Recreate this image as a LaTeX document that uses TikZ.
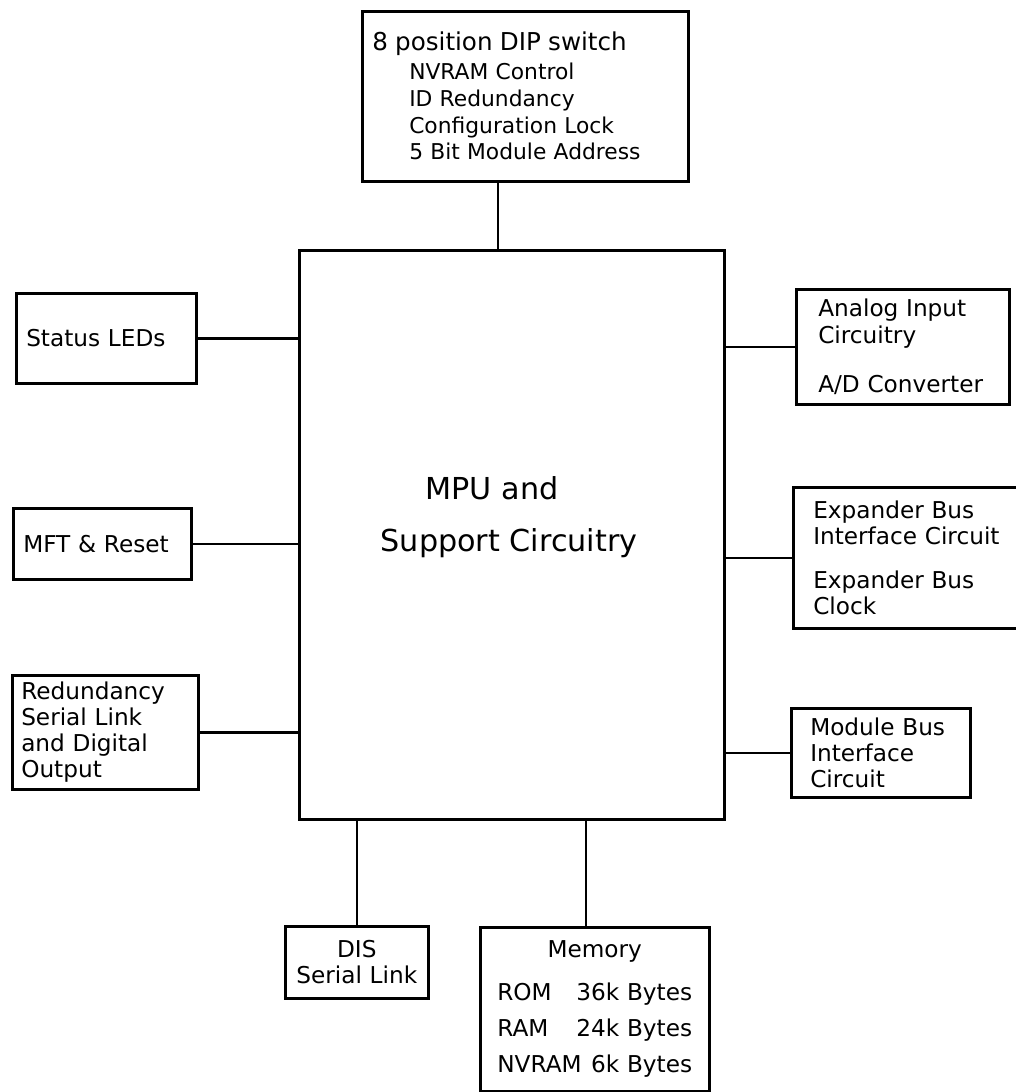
\documentclass[tikz,border=0pt]{standalone}
\usepackage{fontspec}
\setmainfont{DejaVu Sans}
\usepackage{tikz}

\begin{document}
\begin{tikzpicture}[
  x=0.25mm, y=-0.25mm,
  font=\fontsize{16.5}{18.5}\selectfont,
  block/.style={draw, line width=1.8pt, anchor=north west, align=left, inner ysep=0pt},
  link/.style={line width=1.8pt},
]
\useasboundingbox (0,0) rectangle (1016,1092);

% central processor
\node[block, minimum width=106.25mm, minimum height=142.25mm] (mpu) at (298,249) {};
\node[align=left, font=\fontsize{21.5}{37}\selectfont] (mputext) at (509,517) {\hspace*{11.25mm}MPU and\\Support Circuitry};

% top
\node[block, text width=76.5mm, inner xsep=2.5mm, minimum height=42.5mm, font=\fontsize{15.5}{19}\selectfont] (dip) at (361,10)
  {{\fontsize{17.5}{19}\selectfont 8 position DIP switch}\\[1.5pt]
   \hspace*{9.25mm}NVRAM Control\\
   \hspace*{9.25mm}ID Redundancy\\
   \hspace*{9.25mm}Configuration Lock\\
   \hspace*{9.25mm}5 Bit Module Address};

% left side
\node[block, text width=40mm, inner xsep=2.5mm, minimum height=22.5mm] (leds) at (15,292) {Status LEDs};
\node[block, text width=39.5mm, inner xsep=2.5mm, minimum height=17.75mm] (mft) at (12,507) {MFT \& Reset};
\node[block, text width=42mm, inner xsep=2.25mm, minimum height=28.5mm] (redund) at (11,674)
  {Redundancy\\Serial Link\\and Digital\\Output};

% right side
\node[block, text width=42.25mm, inner xsep=5.5mm, minimum height=28.75mm] (analog) at (795,288)
  {Analog Input\\Circuitry\\[5.75mm]A/D Converter};
\node[block, text width=49.5mm, inner xsep=5mm, minimum height=35.25mm] (expander) at (792,486)
  {Expander Bus\\Interface Circuit\\[4.5mm]Expander Bus\\Clock};
\node[block, text width=35.25mm, inner xsep=4.75mm, minimum height=22.25mm] (modbus) at (790,707)
  {Module Bus\\Interface\\Circuit};

% bottom
\node[block, align=center, text width=31mm, inner xsep=2.375mm, minimum height=18mm] (dis) at (284,925)
  {DIS\\Serial Link};
\node[block, align=center, text width=51mm, inner xsep=3.125mm, minimum height=41mm, font=\fontsize{16.5}{25.6}\selectfont] (memory) at (479,926)
  {Memory\\[1.75mm]
   \makebox[30.5mm]{ROM\hfill 36k} Bytes\\
   \makebox[30.5mm]{RAM\hfill 24k} Bytes\\
   \makebox[30.5mm]{NVRAM\hfill 6k} Bytes};

% connections
\coordinate (dipjoin) at (498,249);
\coordinate (memjoin) at (586,818);
\draw[link] (dip.south -| dipjoin) -- (dipjoin);
\draw[link] (leds.east) -- (leds.east -| mpu.west);
\draw[link] (mft.east) -- (mft.east -| mpu.west);
\draw[link] (redund.east) -- (redund.east -| mpu.west);
\draw[link] (analog.west) -- (analog.west -| mpu.east);
\draw[link] (expander.west) -- (expander.west -| mpu.east);
\draw[link] (modbus.west) -- (modbus.west -| mpu.east);
\draw[link] (dis.north) -- (dis.north |- mpu.south);
\draw[link] (memjoin) -- (memory.north -| memjoin);

\end{tikzpicture}
\end{document}
